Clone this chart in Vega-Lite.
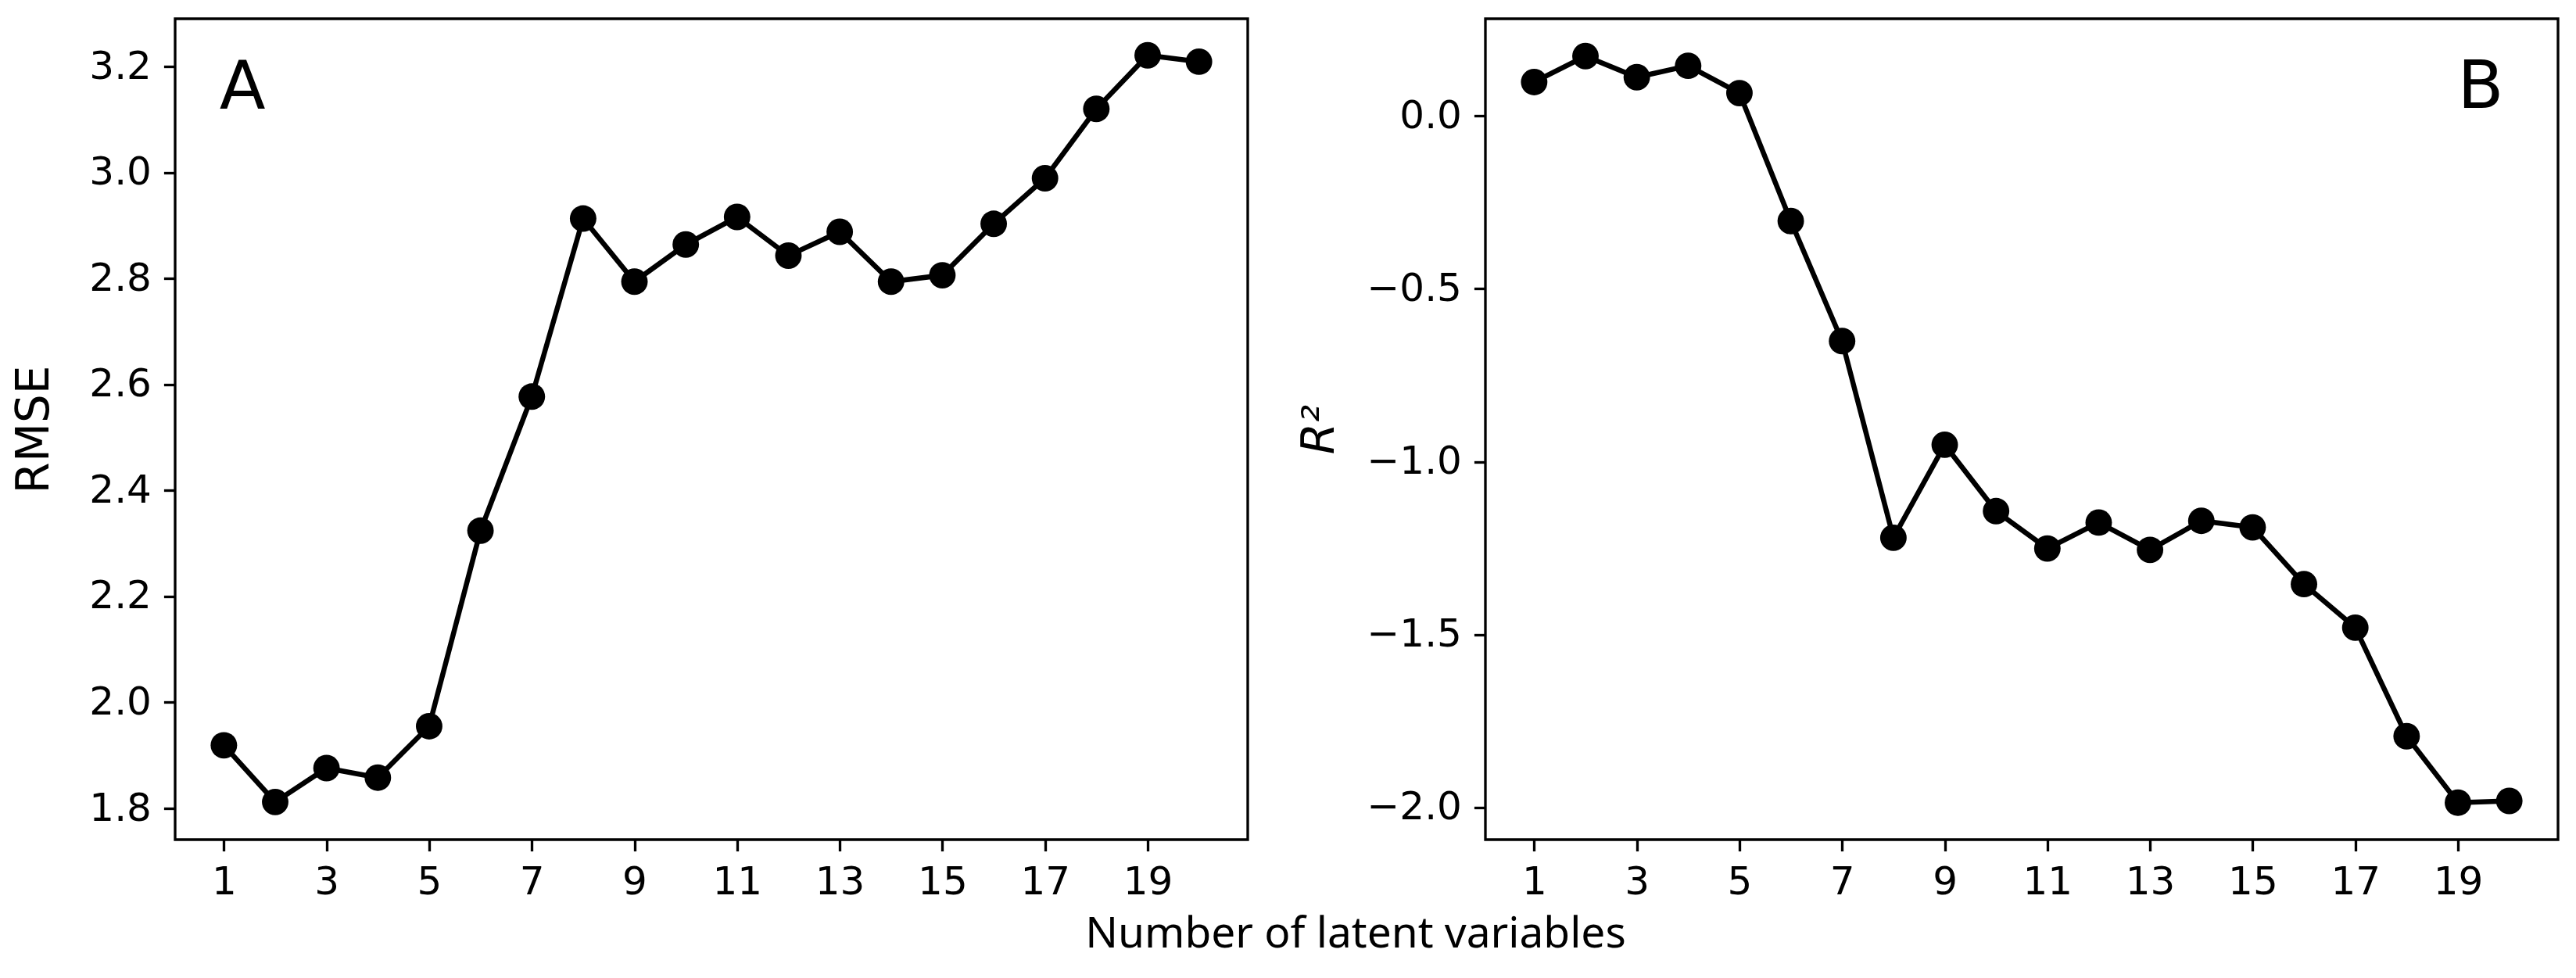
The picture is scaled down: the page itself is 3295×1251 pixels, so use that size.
{
  "$schema": "https://vega.github.io/schema/vega-lite/v6.json",
  "background": "white",
  "padding": {"left": 14, "top": 22, "right": 10, "bottom": 10},
  "datasets": {
    "cv": [
      {"n": 1, "rmse": 1.919, "r2": 0.098},
      {"n": 2, "rmse": 1.812, "r2": 0.173},
      {"n": 3, "rmse": 1.876, "r2": 0.112},
      {"n": 4, "rmse": 1.858, "r2": 0.145},
      {"n": 5, "rmse": 1.955, "r2": 0.066},
      {"n": 6, "rmse": 2.324, "r2": -0.304},
      {"n": 7, "rmse": 2.577, "r2": -0.651},
      {"n": 8, "rmse": 2.913, "r2": -1.22},
      {"n": 9, "rmse": 2.794, "r2": -0.951},
      {"n": 10, "rmse": 2.864, "r2": -1.143},
      {"n": 11, "rmse": 2.916, "r2": -1.251},
      {"n": 12, "rmse": 2.843, "r2": -1.176},
      {"n": 13, "rmse": 2.888, "r2": -1.255},
      {"n": 14, "rmse": 2.794, "r2": -1.171},
      {"n": 15, "rmse": 2.806, "r2": -1.19},
      {"n": 16, "rmse": 2.903, "r2": -1.354},
      {"n": 17, "rmse": 2.989, "r2": -1.48},
      {"n": 18, "rmse": 3.12, "r2": -1.794},
      {"n": 19, "rmse": 3.221, "r2": -1.986},
      {"n": 20, "rmse": 3.209, "r2": -1.981}
    ],
    "labA": [{"x": 0.913, "y": 3.12, "t": "A"}],
    "labB": [{"x": 19.89, "y": 0.0234, "t": "B"}]
  },
  "title": {
    "text": "Number of latent variables",
    "orient": "bottom",
    "anchor": "middle",
    "font": "Noto Sans",
    "fontSize": 55,
    "fontWeight": "normal",
    "color": "black",
    "offset": 14,
    "dx": 90
  },
  "spacing": 60,
  "hconcat": [
    {
      "width": 1372,
      "height": 1050,
      "layer": [
        {
          "data": {"name": "cv"},
          "mark": {"type": "line", "color": "black", "strokeWidth": 6.5, "clip": true},
          "encoding": {
            "x": {"field": "n", "type": "quantitative",
                  "scale": {"domain": [0.05, 20.95], "nice": false, "zero": false},
                  "axis": {"values": [1, 3, 5, 7, 9, 11, 13, 15, 17, 19], "format": "d", "title": null}},
            "y": {"field": "rmse", "type": "quantitative",
                  "scale": {"domain": [1.741, 3.29], "nice": false, "zero": false},
                  "axis": {"values": [1.8, 2.0, 2.2, 2.4, 2.6, 2.8, 3.0, 3.2], "format": ".1f", "title": "RMSE", "titlePadding": 40}}
          }
        },
        {
          "data": {"name": "cv"},
          "mark": {"type": "point", "shape": "circle", "filled": true, "color": "black", "opacity": 1, "size": 1150, "clip": true},
          "encoding": {
            "x": {"field": "n", "type": "quantitative"},
            "y": {"field": "rmse", "type": "quantitative"}
          }
        },
        {
          "data": {"name": "labA"},
          "mark": {"type": "text", "align": "left", "baseline": "alphabetic", "font": "DejaVu Sans", "fontSize": 86, "color": "black"},
          "encoding": {
            "x": {"field": "x", "type": "quantitative"},
            "y": {"field": "y", "type": "quantitative"},
            "text": {"field": "t"}
          }
        }
      ]
    },
    {
      "width": 1372,
      "height": 1050,
      "layer": [
        {
          "data": {"name": "cv"},
          "mark": {"type": "line", "color": "black", "strokeWidth": 6.5, "clip": true},
          "encoding": {
            "x": {"field": "n", "type": "quantitative",
                  "scale": {"domain": [0.05, 20.95], "nice": false, "zero": false},
                  "axis": {"values": [1, 3, 5, 7, 9, 11, 13, 15, 17, 19], "format": "d", "title": null}},
            "y": {"field": "r2", "type": "quantitative",
                  "scale": {"domain": [-2.093, 0.281], "nice": false, "zero": false},
                  "axis": {"values": [-2.0, -1.5, -1.0, -0.5, 0.0], "format": ".1f", "title": "R²", "titleFontStyle": "italic", "titlePadding": 30}}
          }
        },
        {
          "data": {"name": "cv"},
          "mark": {"type": "point", "shape": "circle", "filled": true, "color": "black", "opacity": 1, "size": 1150, "clip": true},
          "encoding": {
            "x": {"field": "n", "type": "quantitative"},
            "y": {"field": "r2", "type": "quantitative"}
          }
        },
        {
          "data": {"name": "labB"},
          "mark": {"type": "text", "align": "right", "baseline": "alphabetic", "font": "DejaVu Sans", "fontSize": 86, "color": "black"},
          "encoding": {
            "x": {"field": "x", "type": "quantitative"},
            "y": {"field": "y", "type": "quantitative"},
            "text": {"field": "t"}
          }
        }
      ]
    }
  ],
  "config": {
    "font": "DejaVu Sans",
    "view": {"stroke": "black", "strokeWidth": 3.33, "fill": "white"},
    "axis": {
      "grid": false,
      "domain": false,
      "ticks": true,
      "tickColor": "black",
      "tickWidth": 3.33,
      "tickSize": 14.6,
      "labelFont": "DejaVu Sans",
      "labelFontSize": 50,
      "labelColor": "black",
      "labelPadding": 16,
      "labelOverlap": false,
      "labelFlush": false,
      "titleFont": "DejaVu Sans",
      "titleFontSize": 58,
      "titleFontWeight": "normal",
      "titleColor": "black"
    },
    "axisX": {"labelPadding": 15}
  }
}
